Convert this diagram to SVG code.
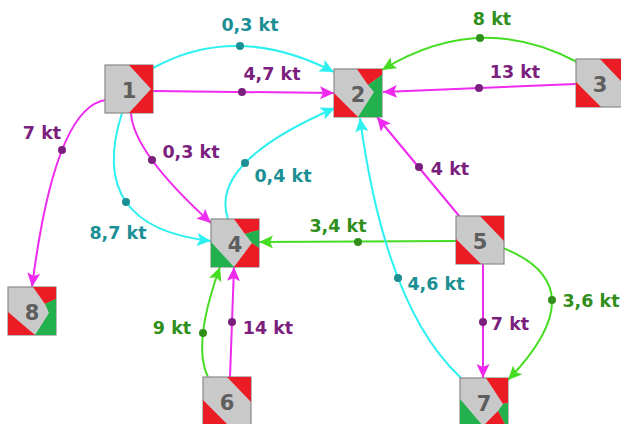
<svg xmlns="http://www.w3.org/2000/svg" width="621" height="424" viewBox="0 0 621 424">
<style>
.bg{fill:#c9c9c9;stroke:#8a8a8a;stroke-width:1.2}
.r{fill:#ec1c24}
.gn{fill:#22b14c}
.num{font-family:"DejaVu Sans",sans-serif;font-weight:bold;font-size:21px;fill:#5e5e5e;text-anchor:middle}
.e{fill:none;stroke-width:2}
.ec{stroke:#2ef0f0}
.em{stroke:#ee2aee}
.eg{stroke:#44dd22}
.lbl{font-family:"DejaVu Sans",sans-serif;font-weight:bold;font-size:17.5px;text-anchor:middle}
.tc{fill:#1c8f95}
.tm{fill:#7b1f7e}
.tg{fill:#2f8f1a}
</style>
<defs>
<marker id="ac" markerUnits="userSpaceOnUse" markerWidth="16" markerHeight="14" refX="14" refY="6.5" orient="auto"><path d="M0,0 L14,6.5 L0,13 L3,6.5 z" fill="#2ef0f0"/></marker>
<marker id="am" markerUnits="userSpaceOnUse" markerWidth="16" markerHeight="14" refX="14" refY="6.5" orient="auto"><path d="M0,0 L14,6.5 L0,13 L3,6.5 z" fill="#ee2aee"/></marker>
<marker id="ag" markerUnits="userSpaceOnUse" markerWidth="16" markerHeight="14" refX="14" refY="6.5" orient="auto"><path d="M0,0 L14,6.5 L0,13 L3,6.5 z" fill="#44dd22"/></marker>
</defs>
<g id="connectors">
<path class="e ec" d="M153,68 Q236.5,22 334,72" marker-end="url(#ac)"/>
<path class="e em" d="M153,91 L334,93" marker-end="url(#am)"/>
<path class="e eg" d="M577,62 Q480.5,10 382,70" marker-end="url(#ag)"/>
<path class="e em" d="M576,84 L383,92" marker-end="url(#am)"/>
<path class="e em" d="M106,100 Q55,106.5 32,287" marker-end="url(#am)"/>
<path class="e em" d="M131,113 Q133,152 211,223" marker-end="url(#am)"/>
<path class="e ec" d="M122,113 Q85.5,227 211,241" marker-end="url(#ac)"/>
<path class="e ec" d="M228,219 Q208.5,162.5 335,108" marker-end="url(#ac)"/>
<path class="e em" d="M460,217 L377,117" marker-end="url(#am)"/>
<path class="e eg" d="M456,241 L259,242" marker-end="url(#ag)"/>
<path class="e em" d="M483,264 L483,378" marker-end="url(#am)"/>
<path class="e eg" d="M503,248 Q598.5,286 508,380" marker-end="url(#ag)"/>
<path class="e ec" d="M461,378 Q385.5,308 360,118" marker-end="url(#ac)"/>
<path class="e eg" d="M208,377 Q192,344 220,267" marker-end="url(#ag)"/>
<path class="e em" d="M230,377 L234,267" marker-end="url(#am)"/>
<g>
<circle cx="240" cy="46" r="4" class="tc"/>
<circle cx="242" cy="92" r="4" class="tm"/>
<circle cx="480" cy="38" r="4" class="tg"/>
<circle cx="479" cy="88" r="4" class="tm"/>
<circle cx="62" cy="150" r="4" class="tm"/>
<circle cx="152" cy="160" r="4" class="tm"/>
<circle cx="126" cy="202" r="4" class="tc"/>
<circle cx="245" cy="163" r="4" class="tc"/>
<circle cx="419" cy="167" r="4" class="tm"/>
<circle cx="358" cy="242" r="4" class="tg"/>
<circle cx="483" cy="322" r="4" class="tm"/>
<circle cx="552" cy="300" r="4" class="tg"/>
<circle cx="398" cy="278" r="4" class="tc"/>
<circle cx="203" cy="333" r="4" class="tg"/>
<circle cx="232" cy="322" r="4" class="tm"/>
</g>
<g>
<text class="lbl tc" x="250" y="31">0,3 kt</text>
<text class="lbl tm" x="272" y="80">4,7 kt</text>
<text class="lbl tg" x="492" y="25">8 kt</text>
<text class="lbl tm" x="515" y="78">13 kt</text>
<text class="lbl tm" x="42" y="139">7 kt</text>
<text class="lbl tm" x="191" y="158">0,3 kt</text>
<text class="lbl tc" x="283" y="182">0,4 kt</text>
<text class="lbl tm" x="450" y="175">4 kt</text>
<text class="lbl tc" x="118" y="239">8,7 kt</text>
<text class="lbl tg" x="338" y="232">3,4 kt</text>
<text class="lbl tc" x="436" y="290">4,6 kt</text>
<text class="lbl tg" x="591" y="307">3,6 kt</text>
<text class="lbl tm" x="510" y="330">7 kt</text>
<text class="lbl tg" x="172" y="334">9 kt</text>
<text class="lbl tm" x="268" y="334">14 kt</text>
</g>
</g>
<g id="node1" transform="translate(105,65)">
<rect class="bg" x="0" y="0" width="48" height="48"/>
<polygon class="r" points="24,0 48,0 48,48 24,48 46,24"/>
<text class="num" x="24" y="33">1</text>
</g>
<g id="node2" transform="translate(334,69)">
<rect class="bg" x="0" y="0" width="48" height="48"/>
<polygon class="r" points="23,0 48,0 48,6 34,16"/>
<polygon class="gn" points="48,6 34,16 40,23 24,48 48,48"/>
<polygon class="r" points="0,24 0,48 24,48"/>
<text class="num" x="24" y="33">2</text>
</g>
<g id="node3" transform="translate(576,59)">
<rect class="bg" x="0" y="0" width="48" height="48"/>
<polygon class="r" points="24,0 48,0 48,25"/>
<polygon class="r" points="0,23 0,48 25,48"/>
<text class="num" x="24" y="33">3</text>
</g>
<g id="node4" transform="translate(211,219)">
<rect class="bg" x="0" y="0" width="48" height="48"/>
<polygon class="r" points="23,0 48,0 48,11 34,15"/>
<polygon class="gn" points="48,11 34,15 41,24 48,29"/>
<polygon class="r" points="48,29 41,24 23,48 48,48"/>
<polygon class="gn" points="0,23 0,48 23,48"/>
<text class="num" x="24" y="33">4</text>
</g>
<g id="node5" transform="translate(456,216)">
<rect class="bg" x="0" y="0" width="48" height="48"/>
<polygon class="r" points="24,0 48,0 48,25"/>
<polygon class="r" points="0,23 0,48 25,48"/>
<text class="num" x="24" y="33">5</text>
</g>
<g id="node6" transform="translate(203,377)">
<rect class="bg" x="0" y="0" width="48" height="48"/>
<polygon class="r" points="24,0 48,0 48,25"/>
<polygon class="r" points="0,23 0,48 25,48"/>
<text class="num" x="24" y="33">6</text>
</g>
<g id="node7" transform="translate(460,378)">
<rect class="bg" x="0" y="0" width="48" height="48"/>
<polygon class="r" points="26,0 48,0 48,25 43,26"/>
<polygon class="gn" points="48,25 43,26 38,33 46,48 48,48"/>
<polygon class="r" points="38,33 46,48 23,48"/>
<polygon class="gn" points="0,21 0,48 23,48"/>
<text class="num" x="24" y="33">7</text>
</g>
<g id="node8" transform="translate(8,287)">
<rect class="bg" x="0" y="0" width="48" height="48"/>
<polygon class="r" points="25,0 48,0 48,12 37,17"/>
<polygon class="gn" points="48,12 37,17 41,26 27,48 48,48"/>
<polygon class="r" points="0,25 0,48 27,48"/>
<text class="num" x="24" y="33">8</text>
</g>
</svg>
